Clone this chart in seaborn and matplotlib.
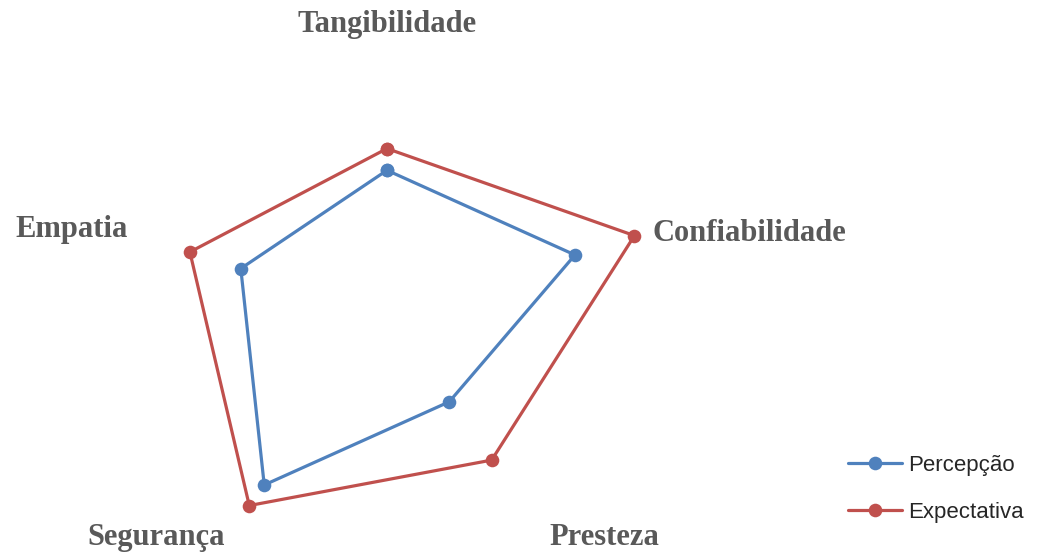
import numpy as np
import pandas as pd
import seaborn as sns
import matplotlib.pyplot as plt
from matplotlib.lines import Line2D

# dimensions of the service-quality radar
categorias = ['Tangibilidade', 'Confiabilidade', 'Presteza', 'Segurança', 'Empatia']
percepcao = [2.75, 3.73, 2.00, 3.94, 2.90]
expectativa = [3.16, 4.91, 3.36, 4.42, 3.91]
series = ['Percepção', 'Expectativa']
cores = ['#4F81BD', '#C0504D']

sns.set_style('white')
plt.rcParams['font.family'] = ['Liberation Sans', 'DejaVu Sans']

# long table, closing each polygon by repeating the first point at 2*pi
n = len(categorias)
theta = [2 * np.pi * i / n for i in range(n)]
rows = []
for nome, vals in zip(series, [percepcao, expectativa]):
    for t, v in zip(theta + [2 * np.pi], vals + [vals[0]]):
        rows.append({'theta': t, 'valor': v, 'serie': nome})
df = pd.DataFrame(rows)

fig = plt.figure(figsize=(10.38, 5.56), dpi=100)
ax = fig.add_axes([0.1175, -0.045, 0.5106, 0.9532], projection='polar')
ax.set_theta_offset(np.pi / 2)
ax.set_theta_direction(-1)

sns.lineplot(data=df, x='theta', y='valor', hue='serie', palette=cores,
             sort=False, estimator=None, marker='o', markersize=9.8,
             markeredgewidth=0, linewidth=2.3, legend=False, clip_on=False,
             ax=ax)
ax.set_ylim(0, 5)
ax.set_axis_off()

# category labels (bold serif, grey)
lab = dict(fontsize=22, fontweight='bold', color='#595959',
           family=['Liberation Serif', 'DejaVu Serif'], clip_on=False)
pos = [(0, 5.36, 'center'), (74.2, 5.20, 'left'), (144.6, 5.30, 'left'),
       (215.3, 5.29, 'right'), (287.0, 5.11, 'right')]
for nome, (ang, r, ha) in zip(categorias, pos):
    ax.text(np.radians(ang), r, nome, ha=ha, va='baseline', **lab)

handles = [Line2D([], [], color=c, marker='o', markersize=9.8,
                  markeredgewidth=0, linewidth=2.3) for c in cores]
fig.legend(handles, series, loc='upper left', bbox_to_anchor=(0.817, 0.182),
           frameon=False, fontsize=16, handlelength=2.43, handletextpad=0.27,
           labelspacing=1.19, borderpad=0, borderaxespad=0)

fig.savefig('out.png', dpi=100, facecolor='white')
